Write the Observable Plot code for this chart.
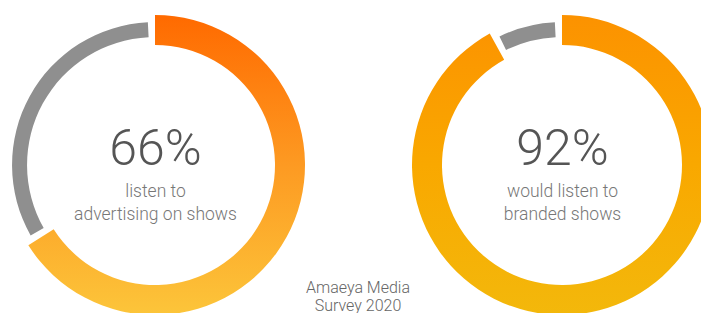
<!DOCTYPE html>
<html>
<head>
<meta charset="utf-8">
<script src="https://cdn.jsdelivr.net/npm/d3@7"></script>
<script src="https://cdn.jsdelivr.net/npm/@observablehq/plot@0.6"></script>
<style>
  html, body { margin: 0; padding: 0; background: #fff; }
  #chart { width: 701px; height: 313px; overflow: hidden; }
</style>
</head>
<body>
<div id="chart"></div>
<script>
// Data
const surveys = ["advertising", "branded"];
const shares = [66, 92];
const bigLabels = ["66%", "92%"];
const line1 = ["listen to", "would listen to"];
const line2 = ["advertising on shows", "branded shows"];
const captionLines = ["Amaeya Media", "Survey 2020"];

// Colours (styles kept apart from the data)
const gradients = [
  ["#ff6a00", "#fd9a22", "#fcc53a"],
  ["#fc9200", "#f9a800", "#f3b80b"]
];
const restColor = "#8f8f8f";

const rows = surveys.map((s, i) => ({
  survey: s, share: shares[i], big: bigLabels[i], l1: line1[i], l2: line2[i], grad: gradients[i]
}));

const angle = d3.scaleLinear([0, 100], [0, 2 * Math.PI]);
const gap = 0.05;

function rings(index, scales, values, dimensions) {
  const g = d3.create("svg:g");
  const defs = g.append("defs");
  const r = scales.y(0) - scales.y(1); // unit radius in px
  rows.forEach((d, i) => {
    const cx = scales.x(d.survey), cy = scales.y(0);
    const id = "ringgrad-" + i;
    const lg = defs.append("linearGradient")
      .attr("id", id)
      .attr("gradientUnits", "userSpaceOnUse")
      .attr("x1", 0).attr("x2", 0)
      .attr("y1", -r).attr("y2", r);
    d.grad.forEach((c, k) => lg.append("stop").attr("offset", k / (d.grad.length - 1)).attr("stop-color", c));
    const main = d3.arc()
      .innerRadius(r * 0.8).outerRadius(r)
      .startAngle(angle(0)).endAngle(angle(d.share));
    const rest = d3.arc()
      .innerRadius(r * 0.853).outerRadius(r * 0.953)
      .startAngle(angle(d.share) + gap).endAngle(angle(100) - gap);
    const gg = g.append("g").attr("transform", `translate(${cx},${cy})`);
    gg.append("path").attr("d", rest()).attr("fill", restColor);
    gg.append("path").attr("d", main()).attr("fill", `url(#${id})`);
  });
  return g.node();
}

const font = "Roboto, 'Open Sans', sans-serif";

const plot = Plot.plot({
  width: 701,
  height: 313,
  margin: 0,
  style: { background: "#fff", fontFamily: font },
  x: { type: "point", domain: surveys, range: [155, 562], padding: 0, axis: null },
  y: { domain: [-1, 1], range: [315, 15], axis: null },
  marks: [
    rings,
    Plot.text(rows, { x: "survey", y: () => 0, text: "big", fontSize: 50, fontWeight: 300, fill: "#555", lineAnchor: "bottom", dy: -1 }),
    Plot.text(rows, { x: "survey", y: () => 0, text: "l1", fontSize: 17.5, fontWeight: 300, fill: "#777", lineAnchor: "bottom", dy: 31 }),
    Plot.text(rows, { x: "survey", y: () => 0, text: "l2", fontSize: 17.5, fontWeight: 300, fill: "#777", lineAnchor: "bottom", dy: 54 }),
    Plot.text([captionLines[0]], { frameAnchor: "bottom", text: d => d, fontSize: 16, fontWeight: 300, fill: "#666", lineAnchor: "bottom", dx: 7, dy: -21 }),
    Plot.text([captionLines[1]], { frameAnchor: "bottom", text: d => d, fontSize: 16, fontWeight: 300, fill: "#666", lineAnchor: "bottom", dx: 7, dy: -3 })
  ]
});

document.getElementById("chart").appendChild(plot);
</script>
</body>
</html>
